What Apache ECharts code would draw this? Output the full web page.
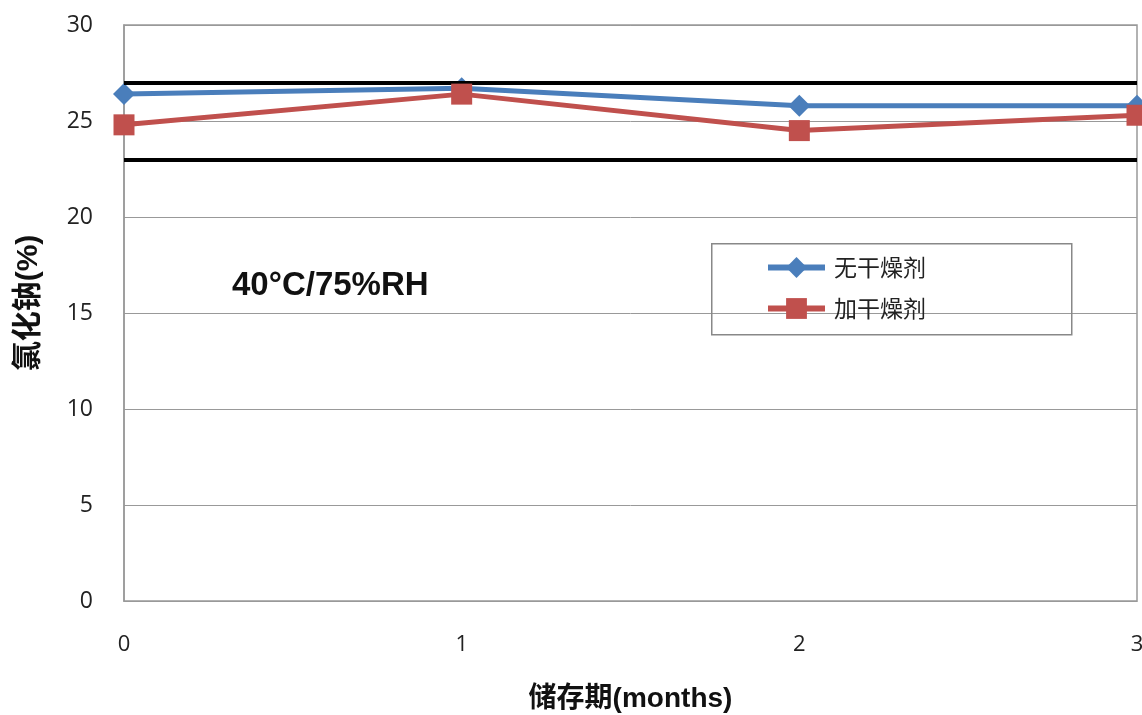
<!DOCTYPE html>
<html><head><meta charset="utf-8">
<script src="https://cdn.jsdelivr.net/npm/echarts@6/dist/echarts.min.js"></script>
<style>html,body{margin:0;padding:0;background:#fff;overflow:hidden}#c{width:1142px;height:715px}</style>
</head><body><div id="c"></div>
<script>
const months = [0, 1, 2, 3];
const noDesiccant = [26.4, 26.7, 25.8, 25.8];
const withDesiccant = [24.8, 26.4, 24.5, 25.3];
const limitLines = [27, 23];
const seriesNames = ['无干燥剂', '加干燥剂'];
const yTicks = [0, 5, 10, 15, 20, 25, 30];

const chart = echarts.init(document.getElementById('c'));
const font = '"Liberation Sans", "Noto Sans CJK SC", sans-serif';
const tickFont = '"Open Sans", "Liberation Sans", sans-serif';
chart.setOption({
  animation: false,
  textStyle: { fontFamily: font },
  grid: { left: 124, right: 5, top: 25, bottom: 114, show: true, borderColor: '#999', borderWidth: 1.5,
          outerBoundsMode: 'none', containLabel: false },
  legend: {
    left: 765, top: 256,
    orient: 'vertical', padding: 0, itemGap: 18,
    itemWidth: 57, itemHeight: 26,
    lineStyle: { width: 6 },
    textStyle: { fontSize: 23, color: '#222', fontFamily: '"Noto Sans CJK SC", sans-serif', padding: [0, 0, 0, 4] },
    data: seriesNames
  },
  xAxis: {
    type: 'value', min: 0, max: 3, interval: 1,
    name: '储存期(months)', nameLocation: 'middle', nameGap: 84,
    nameTextStyle: { fontSize: 28, fontWeight: 'bold', color: '#111', fontFamily: font },
    axisLine: { show: true, lineStyle: { color: '#999' } },
    axisTick: { show: false },
    splitLine: { show: false },
    axisLabel: { fontSize: 22, color: '#222', margin: 33, fontFamily: tickFont,
      formatter: v => months.includes(v) ? String(v) : '' }
  },
  yAxis: {
    type: 'value', min: yTicks[0], max: yTicks[yTicks.length - 1], interval: 5,
    name: '氯化钠(%)', nameLocation: 'middle', nameGap: 80, nameRotate: 90,
    nameTextStyle: { fontSize: 30, fontWeight: 'bold', color: '#111', fontFamily: font, padding: [0, 0, 0, 20] },
    axisLine: { show: true, lineStyle: { color: '#999', width: 1.5 } },
    axisTick: { show: false },
    splitLine: { show: true, lineStyle: { color: '#999', width: 1 } },
    axisLabel: { fontSize: 23, color: '#222', margin: 31, fontFamily: tickFont }
  },
  graphic: [
    {
      type: 'rect', left: 711, top: 243, z: 10,
      shape: { width: 360, height: 91 },
      style: { fill: 'rgba(0,0,0,0)', stroke: '#888', lineWidth: 1.5 }
    },
    {
      type: 'text', left: 232, top: 269,
      style: { text: '40°C/75%RH', fontSize: 33, fontWeight: 'bold', fill: '#111', fontFamily: font }
    }
  ],
  series: [
    {
      name: seriesNames[0], type: 'line',
      data: months.map((m, i) => [m, noDesiccant[i]]),
      symbol: 'diamond', symbolSize: 22,
      lineStyle: { width: 5, color: '#4a7ebb' },
      itemStyle: { color: '#4a7ebb' },
      z: 4,
      markLine: {
        silent: true, symbol: 'none', label: { show: false },
        lineStyle: { color: '#000', width: 4, type: 'solid' },
        data: limitLines.map(v => ({ yAxis: v }))
      }
    },
    {
      name: seriesNames[1], type: 'line',
      data: months.map((m, i) => [m, withDesiccant[i]]),
      symbol: 'rect', symbolSize: 21,
      lineStyle: { width: 5, color: '#c0504d' },
      itemStyle: { color: '#c0504d' },
      z: 5
    }
  ]
});
</script></body></html>
